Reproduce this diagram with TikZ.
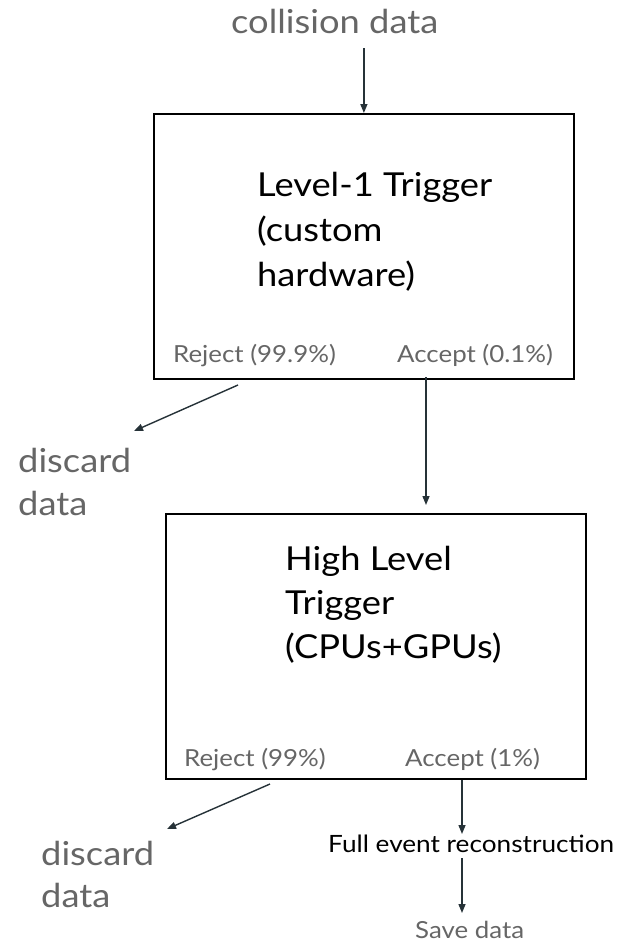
\documentclass[tikz,border=0pt]{standalone}
\usepackage{fontspec}
\setmainfont{Lato}[FakeStretch=1.1]
\usetikzlibrary{arrows.meta}
\definecolor{gtext}{HTML}{666666}
\definecolor{arrc}{HTML}{263238}
\begin{document}
\begin{tikzpicture}[x=1pt,y=-1pt,
  box/.style={draw=black,line width=1.8pt,minimum width=420pt,minimum height=265pt,inner sep=0pt,anchor=north west},
  arr/.style={draw=arrc,line width=1.4pt,-{Triangle[length=9pt,width=7pt]}},
  lbl/.style={inner sep=0pt,anchor=base west,text=gtext},
  big/.style={lbl,font=\fontsize{33}{33}\selectfont},
  small/.style={lbl,font=\fontsize{23.5}{23.5}\selectfont},
  title/.style={inner sep=0pt,anchor=base west,text=black,font=\fontsize{33}{33}\selectfont},
  note/.style={inner sep=0pt,anchor=base west,text=black,font=\fontsize{23.8}{23.8}\selectfont}]
\useasboundingbox (0,0) rectangle (619,942);

% boxes
\node[box] (b1) at (153,113) {};
\node[box] (b2) at (165,513) {};

% texts
\node[big] (cd) at (231,34) {collision data};
\node[title] (t1a) at (257,196) {Level-1 Trigger};
\node[title] (t1b) at (257,241) {(custom};
\node[title] (t1c) at (257,286) {hardware)};
\node[small] (r1) at (173,362) {Reject (99.9\%)};
\node[small] (a1) at (397,362) {Accept (0.1\%)};
\node[big] (d1a) at (18,472) {discard};
\node[big] (d1b) at (18,515) {data};

\node[title] (t2a) at (285,570) {High Level};
\node[title] (t2b) at (285,614) {Trigger};
\node[title] (t2c) at (285,658) {(CPUs+GPUs)};
\node[small] (r2) at (184,766) {Reject (99\%)};
\node[small] (a2) at (405,766) {Accept (1\%)};
\node[big] (d2a) at (41,865) {discard};
\node[big] (d2b) at (41,907) {data};
\node[note] (fe) at (328,852) {Full event reconstruction};
\node[small] (sd) at (415,938) {Save data};

% connector endpoints
\coordinate (c1s) at (363,49);
\coordinate (r1s) at (238,385);
\coordinate (r1e) at (134,431);
\coordinate (a1s) at (426,377);
\coordinate (a1e) at (426,505);
\coordinate (r2s) at (270,784);
\coordinate (r2e) at (167,829);
\coordinate (a2e) at (462,834);
\coordinate (s1s) at (462,858);
\coordinate (s1e) at (462,913);

% connectors
\draw[arr] (c1s) -- (b1.north |- c1s) -- (b1.north);
\draw[arr] (r1s) -- (r1e);
\draw[arr] (a1s) -- (a1e);
\draw[arr] (r2s) -- (r2e);
\draw[arr] (a2e |- b2.south) -- (a2e);
\draw[arr] (s1s) -- (s1e);
\end{tikzpicture}
\end{document}
